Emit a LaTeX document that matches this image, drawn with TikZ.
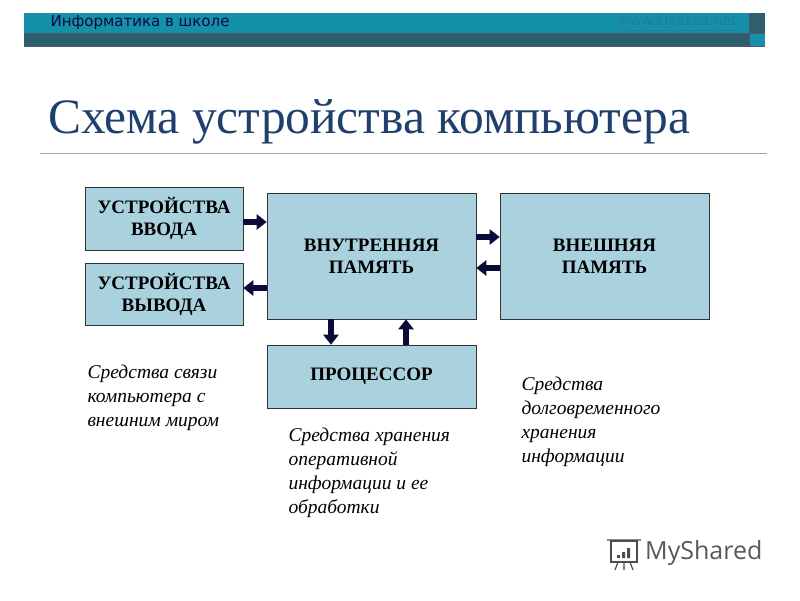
\documentclass[tikz,border=0pt]{standalone}
\usepackage{fontspec}
\setmainfont{Liberation Serif}
\newfontfamily\hdr{DejaVu Sans}
\newfontfamily\logo{Open Sans}
\usetikzlibrary{arrows.meta}
\definecolor{barA}{HTML}{1490A8}
\definecolor{barB}{HTML}{2E5F6C}
\definecolor{boxc}{HTML}{A9D2DE}
\definecolor{navy}{HTML}{0B0B3B}
\definecolor{ttl}{HTML}{1F3F6E}
\tikzset{
 blk/.style={draw=black!80,fill=boxc,line width=0.6pt,align=center,font=\bfseries\fontsize{19}{22}\selectfont,inner sep=0pt},
 arr/.style={navy,line width=5.5pt,-{Triangle[length=10pt,width=15pt]}},
 note/.style={anchor=north west,align=left,font=\itshape\fontsize{19.5}{24}\selectfont}
}
\begin{document}
\begin{tikzpicture}[x=1pt,y=-1pt]
\useasboundingbox (0,0) rectangle (800,600);
% header
\fill[barA] (24,13) rectangle (749,33);
\fill[barB] (24,33) rectangle (749,46);
\fill[barB] (749,13) rectangle (765,33);
\fill[barA] (749,33) rectangle (765,46);
\draw[navy!70,line width=0.8pt] (24,33) -- (765,33) (749,13) -- (749,46) (24,46)--(765,46);
\node[anchor=west,font=\hdr\fontsize{15}{17}\selectfont,text=navy] (h) at (47,23) {Информатика в школе};
\node[anchor=east,font=\hdr\fontsize{14}{16}\selectfont,text=barA!85!violet] (w) at (740,23) {\underline{www.klyaksa.net}};
% title
\node[anchor=base west,font=\fontsize{49.5}{54}\selectfont,text=ttl,inner sep=0pt] (t) at (48,133) {Схема устройства компьютера};
\draw[gray!70,line width=0.8pt] (40,153) -- (767,153);
% boxes
\node[blk,minimum width=158pt,minimum height=63pt] (in) at (164,218.5) {УСТРОЙСТВА\\ВВОДА};
\node[blk,minimum width=158pt,minimum height=62pt] (out) at (164,294) {УСТРОЙСТВА\\ВЫВОДА};
\node[blk,minimum width=209pt,minimum height=126pt] (mem) at (371.5,256) {ВНУТРЕННЯЯ\\ПАМЯТЬ};
\node[blk,minimum width=209pt,minimum height=126pt] (ext) at (604.5,256) {ВНЕШНЯЯ\\ПАМЯТЬ};
\node[blk,minimum width=209pt,minimum height=63pt] (cpu) at (371.5,376.5) {ПРОЦЕССОР};
% arrows
\draw[arr] (in.east|-0,222) -- (mem.west|-0,222);
\draw[arr] (mem.west|-0,288) -- (out.east|-0,288);
\draw[arr] (mem.east|-0,237) -- (ext.west|-0,237);
\draw[arr] (ext.west|-0,268) -- (mem.east|-0,268);
\draw[arr] (mem.south-|331,0) -- (cpu.north-|331,0);
\draw[arr] (cpu.north-|406,0) -- (mem.south-|406,0);
% notes
\node[note] (n1) at (84,361) {Средства связи\\компьютера с\\внешним миром};
\node[note] (n2) at (285,424) {Средства хранения\\оперативной\\информации и ее\\обработки};
\node[note] (n3) at (518,373) {Средства\\долговременного\\хранения\\информации};
% logo
\node[anchor=west,font=\logo\fontsize{25}{28}\selectfont,text=black!65,inner sep=0pt] (lg) at (645,553) {MyShared};
\draw[black!70,line width=1.2pt] (611,541) rectangle (637,562);
\draw[black!70,line width=1.2pt] (607,540) -- (641,540) (618,562)--(615,570) (624,562)--(624,570) (630,562)--(633,570);
\fill[black!70] (617,555) rectangle (620,558) (622,552) rectangle (625,558) (627,548) rectangle (630,558);
\end{tikzpicture}
\end{document}
